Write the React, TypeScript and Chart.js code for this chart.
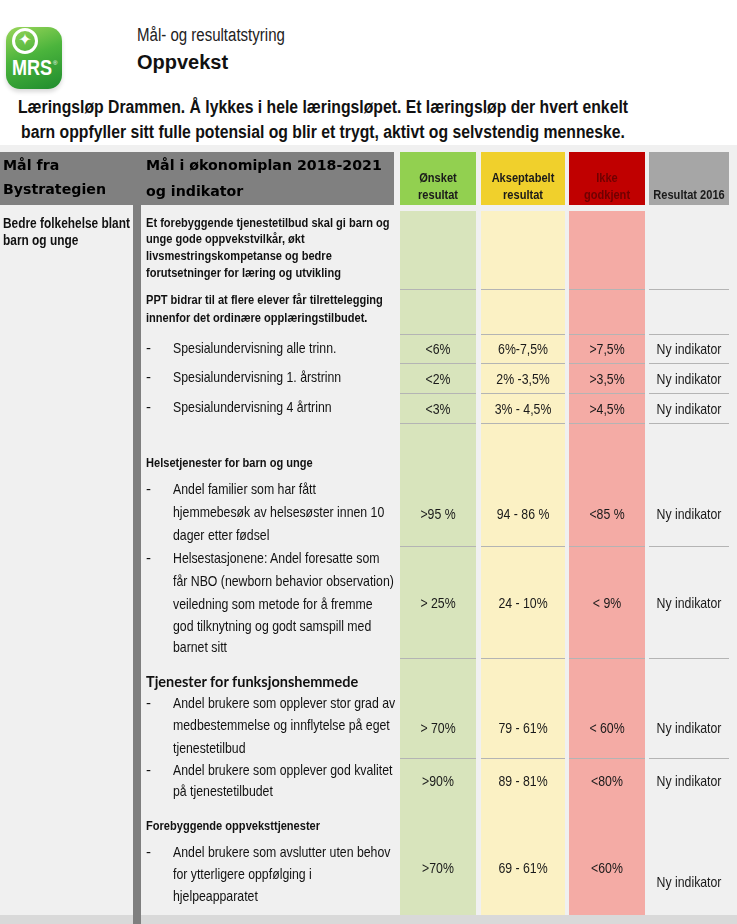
import React, { useEffect, useRef } from 'react';
import { Chart, registerables } from 'chart.js';

Chart.register(...registerables);

// ---------------- data ----------------
const columnHeaders: string[][] = [['Ønsket', 'resultat'], ['Akseptabelt', 'resultat'], ['Ikke', 'godkjent'], ['Resultat 2016']];
const onsketResultat = ['<6%', '<2%', '<3%', '>95 %', '> 25%', '> 70%', '>90%', '>70%'];
const akseptabeltResultat = ['6%-7,5%', '2% -3,5%', '3% - 4,5%', '94 - 86 %', '24 - 10%', '79 - 61%', '89 - 81%', '69 - 61%'];
const ikkeGodkjent = ['>7,5%', '>3,5%', '>4,5%', '<85 %', '< 9%', '< 60%', '<80%', '<60%'];
const resultat2016 = ['Ny indikator', 'Ny indikator', 'Ny indikator', 'Ny indikator', 'Ny indikator', 'Ny indikator', 'Ny indikator', 'Ny indikator'];

const bystrategiMaal = ['Bedre folkehelse blant', 'barn og unge'];
const hovedmaal = [
  'Et forebyggende tjenestetilbud skal gi barn og',
  'unge gode oppvekstvilkår, økt',
  'livsmestringskompetanse og bedre',
  'forutsetninger for læring og utvikling',
];
const pptMaal = ['PPT bidrar til at flere elever får tilrettelegging', 'innenfor det ordinære opplæringstilbudet.'];
const seksjoner = ['Helsetjenester for barn og unge', 'Tjenester for funksjonshemmede', 'Forebyggende oppveksttjenester'];
const indikatorer: string[][] = [
  ['Spesialundervisning alle trinn.'],
  ['Spesialundervisning 1. årstrinn'],
  ['Spesialundervisning 4 årtrinn'],
  ['Andel familier som har fått', 'hjemmebesøk av helsesøster innen 10', 'dager etter fødsel'],
  ['Helsestasjonene: Andel foresatte som', 'får NBO (newborn behavior observation)', 'veiledning som metode for å fremme', 'god tilknytning og godt samspill med', 'barnet sitt'],
  ['Andel brukere som opplever stor grad av', 'medbestemmelse og innflytelse på eget', 'tjenestetilbud'],
  ['Andel brukere som opplever god kvalitet', 'på tjenestetilbudet'],
  ['Andel brukere som avslutter uten behov', 'for ytterligere oppfølging i', 'hjelpeapparatet'],
];
const overskrift = ['Læringsløp Drammen. Å lykkes i hele læringsløpet. Et læringsløp der hvert enkelt', 'barn oppfyller sitt fulle potensial og blir et trygt, aktivt og selvstendig menneske.'];

// ---------------- layout ----------------
const ARIAL = '"Liberation Sans", Arial, sans-serif';
const NARROW_SX = 0.82; // Arial Narrow emulated by horizontal compression
const PAGE_W = 737;
const PAGE_H = 924;
const TABLE_TOP = 145;
const colSpans = [[400, 476], [481, 565], [569, 645], [649, 729]];
const HEADER_SPAN = [152, 205];
const HEADER_LINE_Y = [177, 194];
const rowEdges = [211, 289, 334, 363, 393, 423, 546, 658, 758, 915];
const valueRowY = [348, 378, 408, 513, 602, 727, 780, 867];
const resultRowY = [348, 378, 408, 513, 602, 727, 780, 881];
const headerFill = ['#92d050', '#f0d02c', '#c00000', '#a6a6a6'];
const bodyFill = ['#d8e4bc', '#fbf1c4', '#f4aba5', '#f0f0f0'];
const headerTextColor = ['#1a1a1a', '#1a1a1a', '#700000', '#1a1a1a'];
const indicatorLineY = [[348], [377], [407], [489, 512, 535], [558, 581, 604, 626, 647], [703, 725, 748], [770, 791], [852, 874, 896]];
const sectionY = [463, 682, 826];

const valueCols = [onsketResultat, akseptabeltResultat, ikkeGodkjent, resultat2016];

function narrowText(ctx: any, text: string, x: number, y: number) {
  ctx.save();
  ctx.translate(x, y);
  ctx.scale(NARROW_SX, 1);
  ctx.fillText(text, 0, 0);
  ctx.restore();
}

const labelPlugin = {
  id: 'cellLabels',
  afterDatasetsDraw(chart: any) {
    const { ctx, scales } = chart;
    const x = scales.x;
    const y = scales.y;
    ctx.save();
    ctx.textAlign = 'center';
    ctx.textBaseline = 'middle';
    colSpans.forEach(([l, r], c) => {
      const cx = x.getPixelForValue((l + r) / 2);
      ctx.font = `bold 13.5px ${ARIAL}`;
      ctx.fillStyle = headerTextColor[c];
      const lines = columnHeaders[c];
      const ys = lines.length === 2 ? HEADER_LINE_Y : [HEADER_LINE_Y[1]];
      lines.forEach((t, i) => narrowText(ctx, t, cx, y.getPixelForValue(ys[i]) + 1.5));
      ctx.font = `15px ${ARIAL}`;
      ctx.fillStyle = '#1a1a1a';
      const ys2 = c === 3 ? resultRowY : valueRowY;
      valueCols[c].forEach((v, i) => narrowText(ctx, v, cx, y.getPixelForValue(ys2[i]) + 1.5));
    });
    ctx.restore();
  },
};

function TableChart() {
  const ref = useRef<HTMLCanvasElement | null>(null);
  useEffect(() => {
    if (!ref.current) return;
    const bands = rowEdges.slice(0, -1).map((t, i) => [t, rowEdges[i + 1]]);
    const common = { stack: 'grid', borderSkipped: false, inflateAmount: 0 };
    const colDatasets = colSpans.map(([l, r], c) => ({
      ...common,
      label: columnHeaders[c].join(' '),
      data: [{ x: (l + r) / 2, y: HEADER_SPAN }, ...bands.map((b) => ({ x: (l + r) / 2, y: b }))],
      barThickness: r - l,
      backgroundColor: [headerFill[c], ...bands.map(() => bodyFill[c])],
      borderColor: '#b4b4b4',
      borderWidth: (ctx: any) => (ctx.dataIndex >= 2 ? { top: 1, right: 0, bottom: 0, left: 0 } : 0),
    }));
    const chart = new Chart(ref.current, {
      type: 'bar',
      data: {
        datasets: [
          { ...common, label: 'skille', data: [{ x: 137, y: [205, PAGE_H] }], barThickness: 8, backgroundColor: '#7f7f7f', borderWidth: 0 },
          { ...common, label: 'hode', data: [{ x: 197, y: HEADER_SPAN }], barThickness: 394, backgroundColor: '#808080', borderWidth: 0 },
          ...colDatasets,
          { ...common, label: 'bunn', data: [{ x: PAGE_W / 2, y: [915, PAGE_H] }], barThickness: PAGE_W, backgroundColor: '#d9d9d9', borderWidth: 0 },
        ] as any,
      },
      options: {
        animation: false,
        responsive: false,
        events: [],
        layout: { padding: 0 },
        plugins: { legend: { display: false }, tooltip: { enabled: false } },
        scales: {
          x: { type: 'linear', min: 0, max: PAGE_W, stacked: true, offset: false, display: false },
          y: { type: 'linear', min: TABLE_TOP, max: PAGE_H, reverse: true, stacked: false, display: false },
        },
      } as any,
      plugins: [labelPlugin],
    });
    return () => chart.destroy();
  }, []);
  return (
    <canvas
      ref={ref}
      width={PAGE_W}
      height={PAGE_H - TABLE_TOP}
      style={{ position: 'absolute', left: 0, top: TABLE_TOP, width: PAGE_W, height: PAGE_H - TABLE_TOP, background: '#f0f0f0' }}
    />
  );
}

function Line({ x, y, text, font, color = '#111', lh = 20, center = false, sx = 1, dy = 2 }: any) {
  const style: any = {
    position: 'absolute',
    top: y - lh / 2 + dy,
    height: lh,
    lineHeight: lh + 'px',
    whiteSpace: 'nowrap',
    font,
    color,
  };
  if (center) {
    style.left = x - 500;
    style.width = 1000;
    style.textAlign = 'center';
    style.transformOrigin = '50% 50%';
  } else {
    style.left = x;
    style.transformOrigin = '0 50%';
  }
  if (sx !== 1) style.transform = `scaleX(${sx})`;
  return <div style={style}>{text}</div>;
}

function Logo() {
  return (
    <div style={{ position: 'absolute', left: 6, top: 27, width: 56, height: 62, borderRadius: 14, background: 'linear-gradient(160deg, #9bd65a 0%, #4bb43c 45%, #1f8c2e 100%)', boxShadow: '0 3px 4px rgba(0,0,0,0.15)' }}>
      <div style={{ position: 'absolute', left: 6, top: 1, width: 20, height: 20, border: '3px solid #fff', borderRadius: '50%' }} />
      <div style={{ position: 'absolute', left: 7, top: 3, width: 24, height: 24, lineHeight: '24px', textAlign: 'center', color: '#fff', font: 'bold 16px "DejaVu Sans"' }}>✦</div>
      <div style={{ position: 'absolute', left: 6, top: 28, color: '#fff', font: `bold 22px ${ARIAL}`, transform: 'scaleX(0.82)', transformOrigin: '0 50%' }}>MRS</div>
      <div style={{ position: 'absolute', left: 47, top: 33, color: '#fff', font: '6px sans-serif' }}>®</div>
    </div>
  );
}

export default function App() {
  const bodyBold = `bold 13.5px ${ARIAL}`;
  const body = `15px ${ARIAL}`;
  const headFont = 'bold 14.2px "DejaVu Sans", Verdana, sans-serif';
  const texts: any[] = [];
  bystrategiMaal.forEach((t, i) => texts.push(<Line key={'b' + i} x={3} y={221 + i * 17} text={t} font={`bold 14.5px ${ARIAL}`} lh={17} sx={NARROW_SX} />));
  hovedmaal.forEach((t, i) => texts.push(<Line key={'h' + i} x={146} y={221 + i * 16.8} text={t} font={bodyBold} lh={17} sx={NARROW_SX} />));
  pptMaal.forEach((t, i) => texts.push(<Line key={'p' + i} x={146} y={299 + i * 18} text={t} font={bodyBold} lh={18} sx={NARROW_SX} />));
  texts.push(<Line key="s0" x={146} y={sectionY[0]} text={seksjoner[0]} font={bodyBold} sx={NARROW_SX} />);
  texts.push(<Line key="s1" x={146} y={sectionY[1]} text={seksjoner[1]} font='bold 14.5px Lato, sans-serif' dy={1} />);
  texts.push(<Line key="s2" x={146} y={sectionY[2]} text={seksjoner[2]} font={bodyBold} sx={NARROW_SX} />);
  indikatorer.forEach((lines, k) => {
    texts.push(<Line key={'d' + k} x={146} y={indicatorLineY[k][0]} text="-" font={body} lh={22} />);
    lines.forEach((t, i) => texts.push(<Line key={'i' + k + '_' + i} x={173} y={indicatorLineY[k][i]} text={t} font={body} lh={22} sx={NARROW_SX} />));
  });

  return (
    <div style={{ position: 'absolute', left: 0, top: 0, width: PAGE_W, height: PAGE_H, background: '#fff', overflow: 'hidden' }}>
      <Logo />
      <Line x={137} y={34} text="Mål- og resultatstyring" font={`18px ${ARIAL}`} color="#222" lh={22} sx={0.835} dy={1.5} />
      <Line x={137} y={61} text="Oppvekst" font={`bold 20px ${ARIAL}`} color="#111" lh={24} dy={1.5} />
      {overskrift.map((t, i) => (
        <Line key={'o' + i} x={323} y={107 + i * 25} text={t} font={`bold 18px ${ARIAL}`} color="#111" lh={24} center sx={0.875} />
      ))}
      <TableChart />
      <Line x={3} y={166} text="Mål fra" font={headFont} color="#000" lh={24} dy={3} />
      <Line x={3} y={190} text="Bystrategien" font={headFont} color="#000" lh={24} dy={3} />
      <Line x={146} y={166} text="Mål i økonomiplan 2018-2021" font={headFont} color="#000" lh={24} dy={3} />
      <Line x={146} y={192} text="og indikator" font={headFont} color="#000" lh={24} dy={3} />
      {texts}
    </div>
  );
}
